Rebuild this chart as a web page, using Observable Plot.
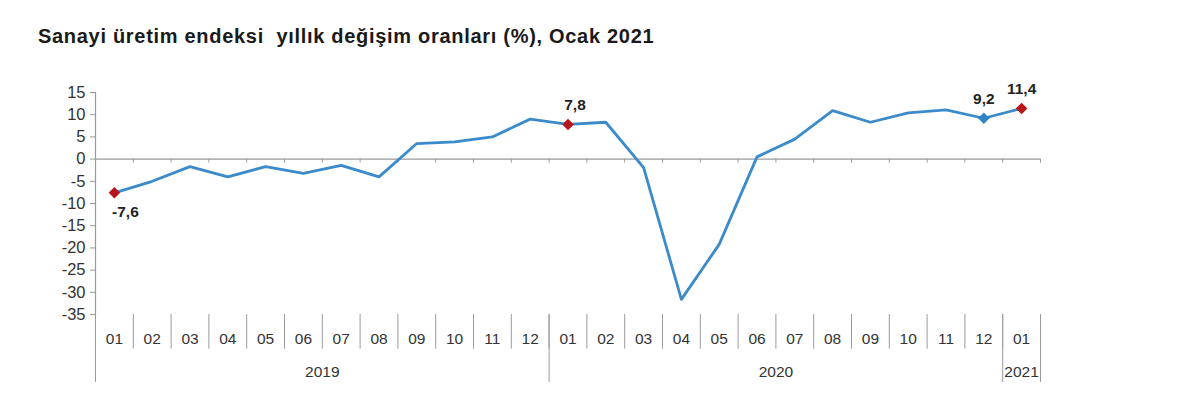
<!DOCTYPE html>
<html>
<head>
<meta charset="utf-8">
<script src="https://cdn.jsdelivr.net/npm/d3@7"></script>
<script src="https://cdn.jsdelivr.net/npm/@observablehq/plot@0.6"></script>
<style>
  html, body { margin: 0; padding: 0; background: #fff; }
  #title { height: 70px; box-sizing: border-box; padding: 25px 0 0 38px; font: bold 20px "Liberation Sans", Arial, sans-serif; letter-spacing: 0.7px; color: #1a1a1a; line-height: 22px; white-space: pre; }
  #chart svg { display: block; }
</style>
</head>
<body>
<div id="title">Sanayi üretim endeksi  yıllık değişim oranları (%), Ocak 2021</div>
<div id="chart"></div>
<script>
const periods = ["2019-01","2019-02","2019-03","2019-04","2019-05","2019-06","2019-07","2019-08","2019-09","2019-10","2019-11","2019-12",
                 "2020-01","2020-02","2020-03","2020-04","2020-05","2020-06","2020-07","2020-08","2020-09","2020-10","2020-11","2020-12",
                 "2021-01"];
const values = [-7.6, -5.0, -1.7, -4.0, -1.7, -3.2, -1.4, -4.0, 3.5, 3.9, 5.0, 9.0,
                7.8, 8.3, -1.9, -31.6, -19.2, 0.5, 4.5, 10.9, 8.3, 10.4, 11.1, 9.2,
                11.4];
const yTicks = [15, 10, 5, 0, -5, -10, -15, -20, -25, -30, -35];
const labeledPeriods = ["2019-01", "2020-01", "2020-12", "2021-01"];
const labeledColors = ["#b8141c", "#b8141c", "#2f83c6", "#b8141c"];
const labeledBelow = [true, false, false, false];
const labeledShift = [11, 7, 0, 0];

const fmt = v => String(v).replace(".", ",");
const rows = periods.map((p, i) => ({i, period: p, year: p.slice(0, 4), month: p.slice(5), value: values[i]}));
const marked = labeledPeriods.map((p, k) => {
  const r = rows.find(d => d.period === p);
  return {...r, color: labeledColors[k], below: labeledBelow[k], shift: labeledShift[k]};
});
const yearGroups = d3.groups(rows, d => d.year).map(([year, rs]) => ({year, start: rs[0].i, end: rs[rs.length - 1].i}));
const monthBounds = d3.range(rows.length + 1).map(i => i - 0.5);
const yearBounds = Array.from(new Set(yearGroups.flatMap(g => [g.start - 0.5, g.end + 0.5])));

const yBottom = d3.min(yTicks), yTop = d3.max(yTicks);
const axisColor = "#9a9a9a";

const labelMarks = marked.map(d => Plot.text([d], {
  x: "i", y: "value", text: v => fmt(v.value),
  dx: d.shift, dy: d.below ? 19 : -19,
  fontSize: 15.5, fontWeight: "bold", fill: "#222"
}));

const chart = Plot.plot({
  width: 1200,
  height: 347,
  marginLeft: 95,
  marginRight: 160,
  marginTop: 22,
  marginBottom: 103,
  style: {fontFamily: "'Liberation Sans', Arial, sans-serif", background: "#fff"},
  x: {domain: [-0.5, rows.length - 0.5], axis: null},
  y: {domain: [yBottom, yTop], axis: null},
  marks: [
    // y axis
    Plot.ruleX([-0.5], {y1: yTop, y2: yBottom, stroke: axisColor, strokeWidth: 1.2}),
    Plot.axisY(yTicks, {tickSize: 5, tickPadding: 5, stroke: axisColor, tickFormat: d => String(d), fontSize: 16.5, fill: "#333", label: null}),
    // zero line and its ticks
    Plot.ruleY([0], {x1: -0.5, x2: rows.length - 0.5, stroke: axisColor, strokeWidth: 1.4}),
    Plot.ruleX(monthBounds, {x: d => d, y1: 0, y2: -0.9, stroke: axisColor, strokeWidth: 1}),
    // category separators
    Plot.ruleX(monthBounds, {x: d => d, y1: yBottom, y2: yBottom - 7.8, stroke: axisColor, strokeWidth: 1}),
    Plot.ruleX(yearBounds, {x: d => d, y1: yBottom, y2: yBottom - 15.3, stroke: axisColor, strokeWidth: 1}),
    // category labels
    Plot.text(rows, {x: "i", y: yBottom - 5.6, text: "month", fontSize: 15.5, fill: "#333"}),
    Plot.text(yearGroups, {x: d => (d.start + d.end) / 2, y: yBottom - 12.9, text: "year", fontSize: 15.5, fill: "#333"}),
    // series
    Plot.line(rows, {x: "i", y: "value", stroke: "#3b8bcb", strokeWidth: 2.8}),
    Plot.dot(marked, {x: "i", y: "value", symbol: "diamond2", r: 5.2, fill: "color", stroke: "none"}),
    ...labelMarks
  ]
});
document.getElementById("chart").appendChild(chart);
</script>
</body>
</html>
